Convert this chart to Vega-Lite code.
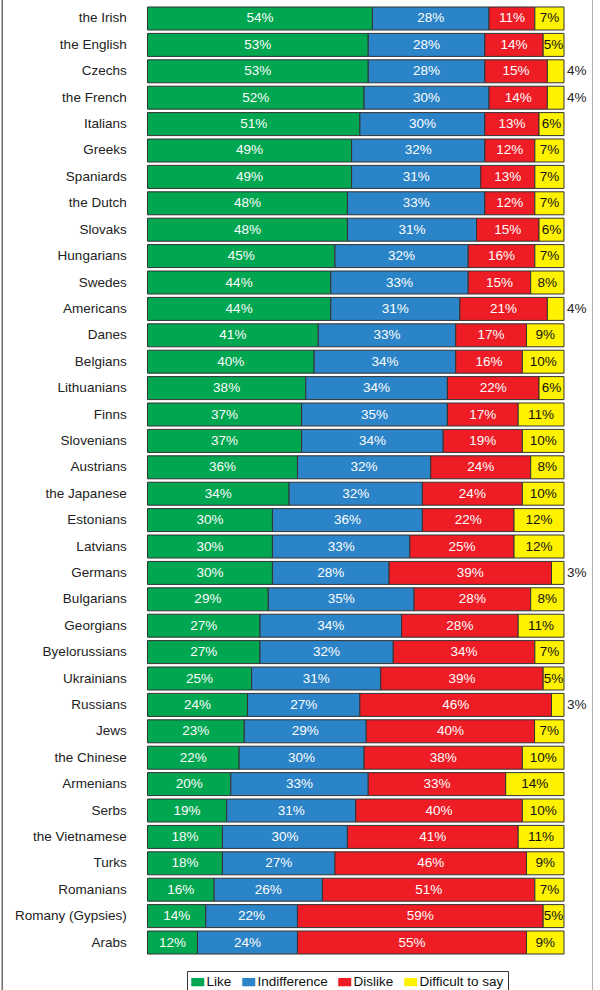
{
 "$schema": "https://vega.github.io/schema/vega-lite/v6.json",
 "width": 591,
 "height": 994,
 "autosize": {"type": "none"},
 "padding": {"left": 2, "top": -2, "right": 0, "bottom": 0},
 "background": "white",
 "config": {"view": {"stroke": "#555", "strokeWidth": 1.3}, "font": "Liberation Sans"},
 "data": {"values": [
  {"g": "the Irish", "Like": 54, "Indifference": 28, "Dislike": 11, "Difficult to say": 7},
  {"g": "the English", "Like": 53, "Indifference": 28, "Dislike": 14, "Difficult to say": 5},
  {"g": "Czechs", "Like": 53, "Indifference": 28, "Dislike": 15, "Difficult to say": 4},
  {"g": "the French", "Like": 52, "Indifference": 30, "Dislike": 14, "Difficult to say": 4},
  {"g": "Italians", "Like": 51, "Indifference": 30, "Dislike": 13, "Difficult to say": 6},
  {"g": "Greeks", "Like": 49, "Indifference": 32, "Dislike": 12, "Difficult to say": 7},
  {"g": "Spaniards", "Like": 49, "Indifference": 31, "Dislike": 13, "Difficult to say": 7},
  {"g": "the Dutch", "Like": 48, "Indifference": 33, "Dislike": 12, "Difficult to say": 7},
  {"g": "Slovaks", "Like": 48, "Indifference": 31, "Dislike": 15, "Difficult to say": 6},
  {"g": "Hungarians", "Like": 45, "Indifference": 32, "Dislike": 16, "Difficult to say": 7},
  {"g": "Swedes", "Like": 44, "Indifference": 33, "Dislike": 15, "Difficult to say": 8},
  {"g": "Americans", "Like": 44, "Indifference": 31, "Dislike": 21, "Difficult to say": 4},
  {"g": "Danes", "Like": 41, "Indifference": 33, "Dislike": 17, "Difficult to say": 9},
  {"g": "Belgians", "Like": 40, "Indifference": 34, "Dislike": 16, "Difficult to say": 10},
  {"g": "Lithuanians", "Like": 38, "Indifference": 34, "Dislike": 22, "Difficult to say": 6},
  {"g": "Finns", "Like": 37, "Indifference": 35, "Dislike": 17, "Difficult to say": 11},
  {"g": "Slovenians", "Like": 37, "Indifference": 34, "Dislike": 19, "Difficult to say": 10},
  {"g": "Austrians", "Like": 36, "Indifference": 32, "Dislike": 24, "Difficult to say": 8},
  {"g": "the Japanese", "Like": 34, "Indifference": 32, "Dislike": 24, "Difficult to say": 10},
  {"g": "Estonians", "Like": 30, "Indifference": 36, "Dislike": 22, "Difficult to say": 12},
  {"g": "Latvians", "Like": 30, "Indifference": 33, "Dislike": 25, "Difficult to say": 12},
  {"g": "Germans", "Like": 30, "Indifference": 28, "Dislike": 39, "Difficult to say": 3},
  {"g": "Bulgarians", "Like": 29, "Indifference": 35, "Dislike": 28, "Difficult to say": 8},
  {"g": "Georgians", "Like": 27, "Indifference": 34, "Dislike": 28, "Difficult to say": 11},
  {"g": "Byelorussians", "Like": 27, "Indifference": 32, "Dislike": 34, "Difficult to say": 7},
  {"g": "Ukrainians", "Like": 25, "Indifference": 31, "Dislike": 39, "Difficult to say": 5},
  {"g": "Russians", "Like": 24, "Indifference": 27, "Dislike": 46, "Difficult to say": 3},
  {"g": "Jews", "Like": 23, "Indifference": 29, "Dislike": 40, "Difficult to say": 7},
  {"g": "the Chinese", "Like": 22, "Indifference": 30, "Dislike": 38, "Difficult to say": 10},
  {"g": "Armenians", "Like": 20, "Indifference": 33, "Dislike": 33, "Difficult to say": 14},
  {"g": "Serbs", "Like": 19, "Indifference": 31, "Dislike": 40, "Difficult to say": 10},
  {"g": "the Vietnamese", "Like": 18, "Indifference": 30, "Dislike": 41, "Difficult to say": 11},
  {"g": "Turks", "Like": 18, "Indifference": 27, "Dislike": 46, "Difficult to say": 9},
  {"g": "Romanians", "Like": 16, "Indifference": 26, "Dislike": 51, "Difficult to say": 7},
  {"g": "Romany (Gypsies)", "Like": 14, "Indifference": 22, "Dislike": 59, "Difficult to say": 5},
  {"g": "Arabs", "Like": 12, "Indifference": 24, "Dislike": 55, "Difficult to say": 9}
 ]},
 "transform": [
  {"fold": ["Like", "Indifference", "Dislike", "Difficult to say"], "as": ["key", "value"]},
  {"calculate": "indexof(['Like','Indifference','Dislike','Difficult to say'], datum.key)", "as": "order"},
  {"stack": "value", "groupby": ["g"], "offset": "normalize", "sort": [{"field": "order", "order": "ascending"}], "as": ["x0", "x1"]},
  {"calculate": "(datum.x0 + datum.x1) / 2", "as": "mid"},
  {"calculate": "datum.value + '%'", "as": "label"}
 ],
 "layer": [
  {
   "mark": {"type": "bar", "stroke": "#333", "strokeWidth": 1},
   "encoding": {
    "y": {"field": "g", "type": "nominal", "sort": null, "axis": null,
          "scale": {"paddingInner": 0.129, "paddingOuter": 0.89, "align": 0.1915, "round": false}},
    "x": {"field": "x0", "type": "quantitative", "axis": null,
          "scale": {"domain": [-0.3493, 1.0696], "nice": false, "zero": false}},
    "x2": {"field": "x1"},
    "color": {"field": "key", "type": "nominal",
      "scale": {"domain": ["Like", "Indifference", "Dislike", "Difficult to say"],
                "range": ["#00A650", "#2A84C7", "#EE1C25", "#FFF200"]},
      "legend": {"orient": "none", "legendX": 185, "legendY": 973, "direction": "horizontal",
                 "columns": 4, "title": null, "strokeColor": "#333", "padding": 4,
                 "fillColor": "white",
                 "symbolType": "M-1,-0.64H1V0.64H-1Z", "symbolSize": 169,
                 "symbolStrokeWidth": 0, "symbolOpacity": 1,
                 "labelFontSize": 13.5, "labelFont": "Liberation Sans", "labelColor": "#111",
                 "columnPadding": 10, "labelOffset": 2}}
   }
  },
  {
   "transform": [{"filter": "datum.value >= 5"}],
   "mark": {"type": "text", "fontSize": 13.5, "baseline": "middle", "align": "center"},
   "encoding": {
    "y": {"field": "g", "type": "nominal", "sort": null},
    "x": {"field": "mid", "type": "quantitative"},
    "text": {"field": "label"},
    "color": {"condition": {"test": "datum.key === 'Difficult to say'", "value": "#111"}, "value": "white"}
   }
  },
  {
   "transform": [{"filter": "datum.value < 5"}],
   "mark": {"type": "text", "fontSize": 13.5, "baseline": "middle", "align": "left", "dx": 3, "color": "#222"},
   "encoding": {
    "y": {"field": "g", "type": "nominal", "sort": null},
    "x": {"field": "x1", "type": "quantitative"},
    "text": {"field": "label"}
   }
  },
  {
   "transform": [{"filter": "datum.key === 'Like'"}],
   "mark": {"type": "text", "fontSize": 13.5, "baseline": "middle", "align": "right", "color": "#222"},
   "encoding": {
    "y": {"field": "g", "type": "nominal", "sort": null},
    "x": {"datum": -0.05, "type": "quantitative"},
    "text": {"field": "g"}
   }
  }
 ]
}
